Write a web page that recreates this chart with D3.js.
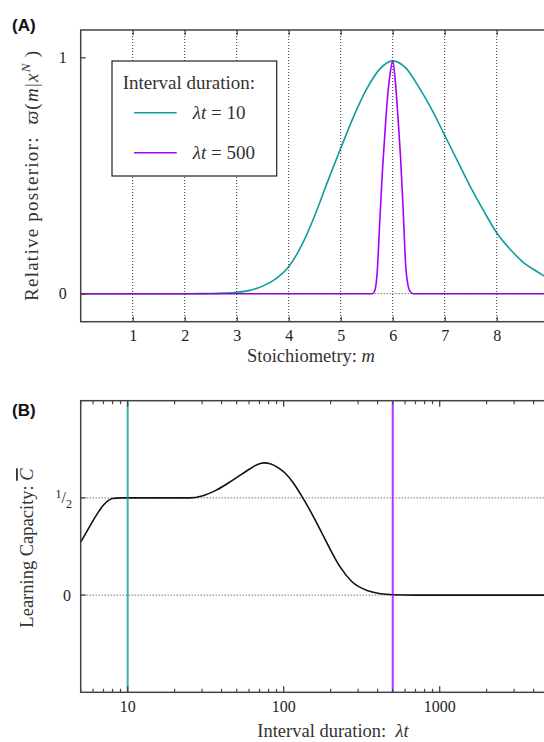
<!DOCTYPE html>
<html><head><meta charset="utf-8">
<script src="https://cdn.jsdelivr.net/npm/d3@7"></script>
<style>
body{margin:0;background:#fff}
svg{display:block;font-family:"Liberation Serif","DejaVu Serif",serif}
</style>
</head><body>
<svg id="c" width="544" height="742"></svg>
<script>
// ---------- Panel A data ----------
const stoichiometry = [0,0.25,0.5,0.75,1,1.25,1.5,1.75,2,2.25,2.5,2.75,3,3.25,3.5,3.75,4,4.25,4.5,4.75,5,5.25,5.5,5.75,6,6.25,6.5,6.75,7,7.25,7.5,7.75,8,8.25,8.5,8.75,9,9.25,9.5,9.75,10];
const posteriorLt10 = [0,0,0,0,0,0,0,0,0,0.0002,0.0008,0.0025,0.006,0.014,0.032,0.063,0.114,0.205,0.33,0.475,0.615,0.75,0.866,0.95,0.985,0.955,0.875,0.78,0.67,0.56,0.45,0.35,0.258,0.19,0.135,0.097,0.065,0.045,0.03,0.02,0.013];
const stoichiometryFine = [0,5.6,5.65,5.7,5.75,5.8,5.85,5.9,5.95,6.0,6.05,6.1,6.15,6.2,6.25,6.3,6.35,6.4,10];
const posteriorLt500 = [0,0,0.01,0.086,0.3,0.51,0.68,0.83,0.93,0.985,0.9,0.75,0.58,0.36,0.12,0.03,0.005,0,0];
const seriesLabels = ["10","500"];
const seriesColors = ["#0e9c9c","#a600ff"];
const xTicksA = [1,2,3,4,5,6,7,8];
const gridA = [1,2,3,4,5,6,7,8,9];
const yTicksA = [0,1];

// ---------- Panel B data ----------
const intervalDuration = [5,5.5,6,6.5,7,7.5,8,9,10,15,20,25,30,37,47.5,61,68,75,82,92,102,115,130,155,175,198,230,273,347,420,500,700,1000,5000,10000];
const learningCapacity = [0.272,0.33,0.383,0.428,0.463,0.486,0.497,0.5,0.5,0.5,0.5,0.5,0.51,0.54,0.593,0.65,0.672,0.68,0.676,0.656,0.628,0.578,0.512,0.404,0.322,0.238,0.145,0.07,0.022,0.007,0.002,0,0,0,0];
const xTicksB = [10,100,1000];
const yTicksB = [0,0.5];
const markedDurations = [10,500];

const svg = d3.select("#c");
const frameColor = "#444";
const gridColor = "#333";
const textColor = "#333";

// ================= Panel A =================
const A = {left:80.7, right:600, top:30, bottom:321.7};
const xA = d3.scaleLinear().domain([0,10]).range([A.left, A.left+520]);
const yA = d3.scaleLinear().domain([0,1]).range([293.7,57.3]);
const gA = svg.append("g");

const lineTeal = d3.line().x(d=>xA(d[0])).y(d=>yA(d[1])).curve(d3.curveMonotoneX);
gA.append("path").datum(d3.zip(stoichiometry,posteriorLt10)).attr("d",lineTeal)
  .attr("fill","none").attr("stroke",seriesColors[0]).attr("stroke-width",1.6);
gA.append("path").datum(d3.zip(stoichiometryFine,posteriorLt500)).attr("d",lineTeal)
  .attr("fill","none").attr("stroke",seriesColors[1]).attr("stroke-width",1.6);

// grid (on top of curves)
gA.selectAll("line.vg").data(gridA).join("line")
  .attr("x1",d=>xA(d)).attr("x2",d=>xA(d)).attr("y1",A.top).attr("y2",A.bottom)
  .attr("stroke",gridColor).attr("stroke-width",1).attr("stroke-dasharray","1,2");
gA.append("line").attr("x1",A.left).attr("x2",A.right).attr("y1",yA(0)).attr("y2",yA(0))
  .attr("stroke",gridColor).attr("stroke-width",1).attr("stroke-dasharray","1,2");

// frame
gA.append("rect").attr("x",A.left).attr("y",A.top).attr("width",A.right-A.left).attr("height",A.bottom-A.top)
  .attr("fill","none").attr("stroke",frameColor).attr("stroke-width",1.5);
// ticks
const gab = gA.append("g").attr("transform",`translate(0,${A.bottom})`)
  .call(d3.axisBottom(xA).tickValues(xTicksA).tickSize(-5).tickFormat(d3.format("d")).tickPadding(8));
const gat = gA.append("g").attr("transform",`translate(0,${A.top})`)
  .call(d3.axisTop(xA).tickValues(gridA).tickSize(-5).tickFormat(""));
const gal = gA.append("g").attr("transform",`translate(${A.left},0)`)
  .call(d3.axisLeft(yA).tickValues(yTicksA).tickSize(-5).tickFormat(d3.format("d")).tickPadding(14));
[gab,gat,gal].forEach(g=>{
  g.attr("font-family",null).attr("font-size",null);
  g.select(".domain").remove();
  g.selectAll(".tick line").attr("stroke",frameColor).attr("stroke-width",1.3);
  g.selectAll(".tick text").attr("font-size",16).attr("fill","#222");
});

// legend
const leg = gA.append("g");
leg.append("rect").attr("x",112).attr("y",61).attr("width",164.7).attr("height",115)
  .attr("fill","#fff").attr("stroke","#222").attr("stroke-width",1.2);
leg.append("text").attr("x",122.7).attr("y",88.5).attr("font-size",19).attr("fill",textColor).text("Interval duration:");
seriesLabels.forEach((lab,i)=>{
  const yy = 112.7 + i*40;
  leg.append("line").attr("x1",134).attr("x2",176.7).attr("y1",yy).attr("y2",yy)
    .attr("stroke",seriesColors[i]).attr("stroke-width",1.6);
  const t = leg.append("text").attr("x",192.7).attr("y",yy+6).attr("font-size",19).attr("fill",textColor);
  t.append("tspan").attr("font-style","italic").text("λt");
  t.append("tspan").text(" = "+lab);
});

// axis labels
const xlabA = gA.append("text").attr("x",311).attr("y",362).attr("text-anchor","middle").attr("font-size",18.5).attr("fill",textColor);
xlabA.append("tspan").text("Stoichiometry: ");
xlabA.append("tspan").attr("font-style","italic").text("m");

const ylabA = gA.append("text").attr("transform","translate(38,176) rotate(-90)").attr("text-anchor","middle")
  .attr("font-size",19).attr("fill",textColor).attr("textLength",250).attr("lengthAdjust","spacing");
ylabA.append("tspan").text("Relative posterior:\u00a0\u00a0");
ylabA.append("tspan").attr("font-style","italic").text("ϖ");
ylabA.append("tspan").text("(");
ylabA.append("tspan").attr("font-style","italic").text("m");
ylabA.append("tspan").text("|");
ylabA.append("tspan").attr("font-style","italic").text("x");
ylabA.append("tspan").attr("font-style","italic").attr("font-size",13).attr("dy",-8).text("N");
ylabA.append("tspan").attr("dy",8).text("\u2009)");

svg.append("text").attr("x",12).attr("y",31).attr("font-family","Liberation Sans, Arial, sans-serif")
  .attr("font-weight","bold").attr("font-size",17).attr("fill","#111").text("(A)");

// ================= Panel B =================
const B = {left:80.7, right:600, top:400.7, bottom:692.3};
const xB = d3.scaleLog().domain([5,10000]).range([B.left, B.left+515]);
const yB = d3.scaleLinear().domain([-0.5,1]).range([B.bottom,B.top]);
const gB = svg.append("g");

gB.selectAll("line.hg").data(yTicksB).join("line")
  .attr("x1",B.left).attr("x2",B.right).attr("y1",d=>yB(d)).attr("y2",d=>yB(d))
  .attr("stroke",gridColor).attr("stroke-width",1).attr("stroke-dasharray","1,2");

const lineB = d3.line().x(d=>xB(d[0])).y(d=>yB(d[1])).curve(d3.curveMonotoneX);
gB.append("path").datum(d3.zip(intervalDuration,learningCapacity)).attr("d",lineB)
  .attr("fill","none").attr("stroke","#111").attr("stroke-width",1.6);

gB.selectAll("line.mk").data(markedDurations).join("line")
  .attr("x1",d=>xB(d)).attr("x2",d=>xB(d)).attr("y1",B.top+1).attr("y2",B.bottom)
  .attr("stroke",(d,i)=>seriesColors[i]).attr("stroke-opacity",0.8).attr("stroke-width",2);

gB.append("rect").attr("x",B.left).attr("y",B.top).attr("width",B.right-B.left).attr("height",B.bottom-B.top)
  .attr("fill","none").attr("stroke",frameColor).attr("stroke-width",1.5);

// log ticks
const minorTicks = xB.ticks().filter(v=>!xTicksB.includes(v));
function logTicks(g, y0, dir){
  g.selectAll("line.mn").data(minorTicks).join("line")
    .attr("x1",d=>xB(d)).attr("x2",d=>xB(d)).attr("y1",y0).attr("y2",y0+dir*3.5)
    .attr("stroke",frameColor).attr("stroke-width",1.2);
  g.selectAll("line.mj").data(xTicksB).join("line")
    .attr("x1",d=>xB(d)).attr("x2",d=>xB(d)).attr("y1",y0).attr("y2",y0+dir*6)
    .attr("stroke",frameColor).attr("stroke-width",1.3);
}
logTicks(gB.append("g"), B.bottom, -1);
logTicks(gB.append("g"), B.top, 1);
gB.selectAll("text.xt").data(xTicksB).join("text")
  .attr("x",d=>xB(d)).attr("y",712).attr("text-anchor","middle").attr("font-size",16).attr("fill","#222")
  .text(d=>d3.format("d")(d));
gB.selectAll("line.yt").data(yTicksB).join("line")
  .attr("x1",B.left).attr("x2",B.left+5).attr("y1",d=>yB(d)).attr("y2",d=>yB(d))
  .attr("stroke",frameColor).attr("stroke-width",1.3);
// y tick labels
gB.append("text").attr("x",71).attr("y",yB(0)+5.5).attr("text-anchor","end").attr("font-size",16).attr("fill","#222").text(d3.format("d")(yTicksB[0]));
const half = gB.append("text").attr("x",72).attr("y",yB(yTicksB[1])+5.5).attr("text-anchor","end").attr("font-size",16).attr("fill","#222");
half.append("tspan").attr("font-size",12).attr("dy",-5).text("1");
half.append("tspan").attr("dy",5).text("/");
half.append("tspan").attr("font-size",12).attr("dy",5).text("2");

const xlabB = gB.append("text").attr("x",333).attr("y",737).attr("text-anchor","middle").attr("font-size",18.5).attr("fill",textColor);
xlabB.append("tspan").text("Interval duration:\u00a0\u00a0");
xlabB.append("tspan").attr("font-style","italic").text("λt");

const ylabB = gB.append("text").attr("transform","translate(33,548) rotate(-90)").attr("text-anchor","middle").attr("font-size",18.5).attr("fill",textColor);
ylabB.append("tspan").text("Learning Capacity: ");
ylabB.append("tspan").attr("font-style","italic").attr("text-decoration","overline").text("C");

svg.append("text").attr("x",12).attr("y",416).attr("font-family","Liberation Sans, Arial, sans-serif")
  .attr("font-weight","bold").attr("font-size",17).attr("fill","#111").text("(B)");
</script>
</body></html>
